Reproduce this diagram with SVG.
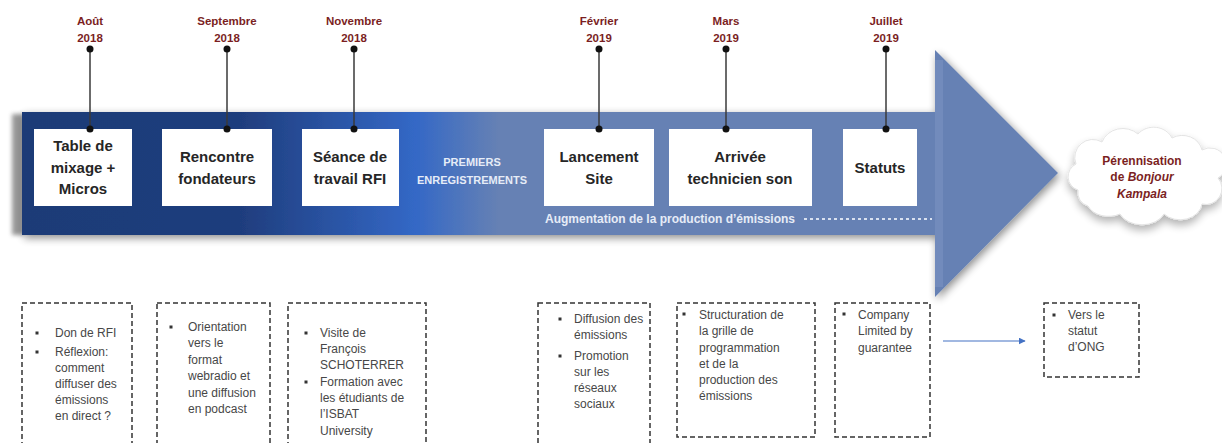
<svg xmlns="http://www.w3.org/2000/svg" width="1222" height="443" viewBox="0 0 1222 443">
<defs>
<linearGradient id="bodyGrad" gradientUnits="userSpaceOnUse" x1="22" y1="0" x2="1058" y2="0">
<stop offset="0" stop-color="#1E3B77"/>
<stop offset="0.21" stop-color="#1F3D7D"/>
<stop offset="0.38" stop-color="#3468C6"/>
<stop offset="0.46" stop-color="#6681B4"/>
<stop offset="1" stop-color="#6681B4"/>
</linearGradient>
<filter id="shadow" x="-5%" y="-10%" width="115%" height="125%">
<feGaussianBlur in="SourceAlpha" stdDeviation="4"/>
<feOffset dx="2" dy="3" result="b"/>
<feComponentTransfer><feFuncA type="linear" slope="0.45"/></feComponentTransfer>
<feMerge><feMergeNode/><feMergeNode in="SourceGraphic"/></feMerge>
</filter>
<filter id="soft" x="-50%" y="-10%" width="200%" height="120%">
<feGaussianBlur stdDeviation="2"/>
</filter>
<filter id="cloudShadow" x="-20%" y="-30%" width="140%" height="170%">
<feGaussianBlur in="SourceAlpha" stdDeviation="4"/>
<feOffset dx="0" dy="5"/>
<feComponentTransfer><feFuncA type="linear" slope="0.3"/></feComponentTransfer>
<feMerge><feMergeNode/><feMergeNode in="SourceGraphic"/></feMerge>
</filter>
<marker id="arrowBlue" viewBox="0 0 10 10" refX="9" refY="5" markerWidth="7" markerHeight="7" orient="auto" markerUnits="userSpaceOnUse">
<path d="M0,0 L10,5 L0,10 Z" fill="#4472C4"/>
</marker>
<style>
.date{font-family:"Liberation Sans",Arial,sans-serif;font-weight:bold;font-size:11.5px;fill:#7B1F1F;text-anchor:middle}
.title{font-family:"Liberation Sans",Arial,sans-serif;font-weight:bold;font-size:15px;fill:#262626;text-anchor:middle}
.wbox{fill:#FFFFFF}
.pin{stroke:#3A3A3A;stroke-width:1.5;fill:none}
.dot{fill:#111111}
.dash{fill:none;stroke:#333333;stroke-width:1.5;stroke-dasharray:5 3}
.bul{fill:#333333}
.item{font-family:"Liberation Sans",Arial,sans-serif;font-size:12px;fill:#474747}
.band{font-family:"Liberation Sans",Arial,sans-serif;font-weight:bold;font-size:11px;fill:#E6ECF7;text-anchor:middle}
.bandl{font-family:"Liberation Sans",Arial,sans-serif;font-weight:bold;font-size:12px;fill:#E6ECF7}
.cloudtxt{font-family:"Liberation Sans",Arial,sans-serif;font-weight:bold;font-size:12px;fill:#7B1F1F;text-anchor:middle}
</style>
</defs>

<g id="timeline-arrow">
<rect x="12" y="114" width="12" height="121" fill="#7F7F7F" opacity="0.8" filter="url(#soft)"/>
<path d="M22,112 L935,112 L935,50 L1058,173 L935,297 L935,235 L22,235 Z" fill="url(#bodyGrad)" filter="url(#shadow)"/>
<rect x="935" y="60" width="8" height="227" fill="#7D96C4" opacity="0.5"/>
<text class="band" x="472" y="166">PREMIERS</text>
<text class="band" x="472" y="184">ENREGISTREMENTS</text>
<text class="bandl" x="545" y="223">Augmentation de la production d’émissions</text>
<line x1="804" y1="219" x2="932" y2="219" stroke="#D8E0EF" stroke-width="2" stroke-dasharray="3 3"/>
</g>

<g id="connectors">
<line class="pin" x1="90" y1="49" x2="90" y2="129"/>
<line class="pin" x1="227" y1="49" x2="227" y2="129"/>
<line class="pin" x1="354" y1="49" x2="354" y2="129"/>
<line class="pin" x1="599" y1="49" x2="599" y2="129"/>
<line class="pin" x1="726" y1="49" x2="726" y2="129"/>
<line class="pin" x1="886" y1="49" x2="886" y2="129"/>
<line x1="943" y1="341" x2="1025" y2="341" stroke="#4472C4" stroke-width="1.2" marker-end="url(#arrowBlue)"/>
</g>

<g id="node-aout">
<text class="date" x="90" y="25">Août</text>
<text class="date" x="90" y="42">2018</text>
<rect class="wbox" x="34" y="129" width="98" height="77"/>
<text class="title" x="83" y="151">Table de</text>
<text class="title" x="83" y="173">mixage +</text>
<text class="title" x="83" y="194">Micros</text>
</g>
<g id="node-septembre">
<text class="date" x="227" y="25">Septembre</text>
<text class="date" x="227" y="42">2018</text>
<rect class="wbox" x="162" y="129" width="110" height="77"/>
<text class="title" x="217" y="162">Rencontre</text>
<text class="title" x="217" y="184">fondateurs</text>
</g>
<g id="node-novembre">
<text class="date" x="354" y="25">Novembre</text>
<text class="date" x="354" y="42">2018</text>
<rect class="wbox" x="302" y="129" width="97" height="77"/>
<text class="title" x="350" y="162">Séance de</text>
<text class="title" x="350" y="184">travail RFI</text>
</g>
<g id="node-fevrier">
<text class="date" x="599" y="25">Février</text>
<text class="date" x="599" y="42">2019</text>
<rect class="wbox" x="544" y="129" width="110" height="77"/>
<text class="title" x="599" y="162">Lancement</text>
<text class="title" x="599" y="184">Site</text>
</g>
<g id="node-mars">
<text class="date" x="726" y="25">Mars</text>
<text class="date" x="726" y="42">2019</text>
<rect class="wbox" x="669" y="129" width="143" height="77"/>
<text class="title" x="740" y="162">Arrivée</text>
<text class="title" x="740" y="184">technicien son</text>
</g>
<g id="node-juillet">
<text class="date" x="886" y="25">Juillet</text>
<text class="date" x="886" y="42">2019</text>
<rect class="wbox" x="843" y="129" width="74" height="77"/>
<text class="title" x="880" y="173">Statuts</text>
</g>

<g id="dots">
<circle class="dot" cx="90" cy="49" r="3.5"/><circle class="dot" cx="90" cy="129" r="3.5"/>
<circle class="dot" cx="227" cy="49" r="3.5"/><circle class="dot" cx="227" cy="129" r="3.5"/>
<circle class="dot" cx="354" cy="49" r="3.5"/><circle class="dot" cx="354" cy="129" r="3.5"/>
<circle class="dot" cx="599" cy="49" r="3.5"/><circle class="dot" cx="599" cy="129" r="3.5"/>
<circle class="dot" cx="726" cy="49" r="3.5"/><circle class="dot" cx="726" cy="129" r="3.5"/>
<circle class="dot" cx="886" cy="49" r="3.5"/><circle class="dot" cx="886" cy="129" r="3.5"/>
</g>

<g id="node-cloud">
<path d="M1078,190 a14,14 0 0 1 -2,-26 a18,18 0 0 1 26,-22 a22,20 0 0 1 36,-8 a20,18 0 0 1 34,4 a20,18 0 0 1 30,12 a14,14 0 0 1 16,28 a16,16 0 0 1 -16,26 a22,18 0 0 1 -38,10 a24,18 0 0 1 -44,0 a22,16 0 0 1 -32,-8 a14,14 0 0 1 -10,-16 Z" fill="#FFFFFF" stroke="#E4E4E4" stroke-width="1" filter="url(#cloudShadow)"/>
<text class="cloudtxt" x="1142" y="165">Pérennisation</text>
<text class="cloudtxt" x="1142" y="181">de <tspan font-style="italic">Bonjour</tspan></text>
<text class="cloudtxt" x="1142" y="198" font-style="italic">Kampala</text>
</g>

<g id="detail-aout">
<rect class="dash" x="22" y="303" width="110" height="150"/>
<rect class="bul" x="35.5" y="331.5" width="3" height="3"/>
<text class="item" x="55" y="337">Don de RFI</text>
<rect class="bul" x="35.5" y="350.5" width="3" height="3"/>
<text class="item" x="55" y="356">Réflexion:</text>
<text class="item" x="55" y="372">comment</text>
<text class="item" x="55" y="388">diffuser des</text>
<text class="item" x="55" y="404">émissions</text>
<text class="item" x="55" y="420">en direct ?</text>
</g>
<g id="detail-septembre">
<rect class="dash" x="157" y="303" width="113" height="150"/>
<rect class="bul" x="169.5" y="325.5" width="3" height="3"/>
<text class="item" x="188" y="331">Orientation</text>
<text class="item" x="188" y="347">vers le</text>
<text class="item" x="188" y="364">format</text>
<text class="item" x="188" y="380">webradio et</text>
<text class="item" x="188" y="397">une diffusion</text>
<text class="item" x="188" y="413">en podcast</text>
</g>
<g id="detail-novembre">
<rect class="dash" x="288" y="303" width="138" height="150"/>
<rect class="bul" x="304.5" y="331.5" width="3" height="3"/>
<text class="item" x="320" y="337">Visite de</text>
<text class="item" x="320" y="353">François</text>
<text class="item" x="320" y="369">SCHOTERRER</text>
<rect class="bul" x="304.5" y="380.5" width="3" height="3"/>
<text class="item" x="320" y="386">Formation avec</text>
<text class="item" x="320" y="402">les étudiants de</text>
<text class="item" x="320" y="418">l’ISBAT</text>
<text class="item" x="320" y="435">University</text>
</g>
<g id="detail-fevrier">
<rect class="dash" x="538" y="303" width="112" height="150"/>
<rect class="bul" x="558.5" y="317.5" width="3" height="3"/>
<text class="item" x="574" y="323">Diffusion des</text>
<text class="item" x="574" y="339">émissions</text>
<rect class="bul" x="558.5" y="354.5" width="3" height="3"/>
<text class="item" x="574" y="360">Promotion</text>
<text class="item" x="574" y="376">sur les</text>
<text class="item" x="574" y="392">réseaux</text>
<text class="item" x="574" y="408">sociaux</text>
</g>
<g id="detail-mars">
<rect class="dash" x="677" y="303" width="138" height="134"/>
<rect class="bul" x="682.5" y="312.5" width="3" height="3"/>
<text class="item" x="699" y="319">Structuration de</text>
<text class="item" x="699" y="335">la grille de</text>
<text class="item" x="699" y="352">programmation</text>
<text class="item" x="699" y="368">et de la</text>
<text class="item" x="699" y="384">production des</text>
<text class="item" x="699" y="400">émissions</text>
</g>
<g id="detail-juillet">
<rect class="dash" x="835" y="303" width="95" height="134"/>
<rect class="bul" x="842.5" y="312.5" width="3" height="3"/>
<text class="item" x="858" y="319">Company</text>
<text class="item" x="858" y="335">Limited by</text>
<text class="item" x="858" y="352">guarantee</text>
</g>
<g id="detail-ong">
<rect class="dash" x="1044" y="303" width="95" height="74"/>
<rect class="bul" x="1052.5" y="313.5" width="3" height="3"/>
<text class="item" x="1068" y="319">Vers le</text>
<text class="item" x="1068" y="335">statut</text>
<text class="item" x="1068" y="351">d’ONG</text>
</g>
</svg>
